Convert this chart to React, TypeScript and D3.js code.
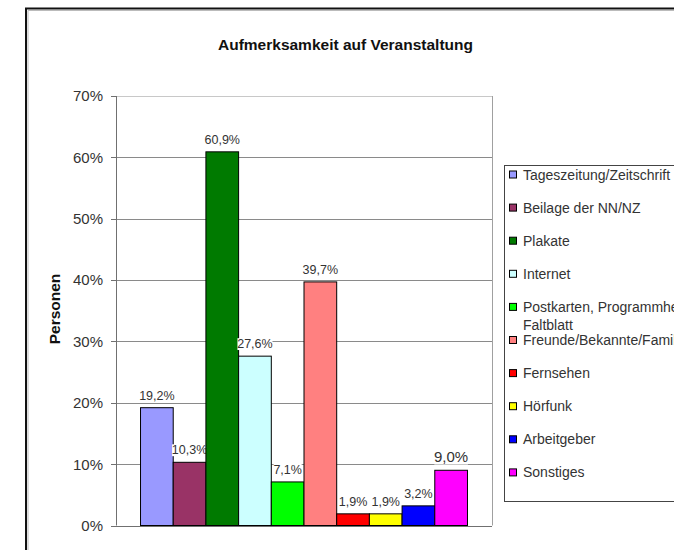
import React from "react";
import * as d3 from "d3";

const title = "Aufmerksamkeit auf Veranstaltung";
const yAxisTitle = "Personen";
const categories = [
  "Tageszeitung/Zeitschrift",
  "Beilage der NN/NZ",
  "Plakate",
  "Internet",
  "Postkarten, Programmheft, Faltblatt",
  "Freunde/Bekannte/Familie",
  "Fernsehen",
  "Hörfunk",
  "Arbeitgeber",
  "Sonstiges",
];
const legendLines = [
  ["Tageszeitung/Zeitschrift"],
  ["Beilage der NN/NZ"],
  ["Plakate"],
  ["Internet"],
  ["Postkarten, Programmheft,", "Faltblatt"],
  ["Freunde/Bekannte/Familie"],
  ["Fernsehen"],
  ["Hörfunk"],
  ["Arbeitgeber"],
  ["Sonstiges"],
];
const values = [19.2, 10.3, 60.9, 27.6, 7.1, 39.7, 1.9, 1.9, 3.2, 9.0];
const colors = [
  "#9999FF",
  "#993366",
  "#007A00",
  "#CCFFFF",
  "#00FF00",
  "#FF8080",
  "#FF0000",
  "#FFFF00",
  "#0000FF",
  "#FF00FF",
];
const yTicks = [0, 10, 20, 30, 40, 50, 60, 70];
const largeLabelIndex = 9;

const W = 674;
const H = 550;
const FONT = "'Liberation Sans', Arial, sans-serif";

export default function App() {
  const left = 116;
  const right = 492;
  const top = 96;
  const bottom = 525.5;

  const y = d3.scaleLinear().domain([0, 70]).range([bottom, top]);
  const x = d3
    .scaleBand<string>()
    .domain(categories)
    .range([left, right])
    .paddingInner(0)
    .paddingOuter(0.75);

  const fmt = (v: number) => d3.format(".1f")(v).replace(".", ",") + "%";

  const legendX = 504.5;
  const legendTop = 165.5;
  const legendBottom = 501.5;
  const legendY = d3
    .scalePoint<number>()
    .domain(d3.range(categories.length))
    .range([174.5, 472.4]);

  return (
    <svg
      width={W}
      height={H}
      style={{ position: "absolute", left: 0, top: 0, background: "#fff" }}
      fontFamily={FONT}
    >
      <rect x={0} y={0} width={W} height={H} fill="#fff" />
      {/* outer frame */}
      <path d={`M${W + 5},8.5 H26 V${H + 5}`} fill="none" stroke="#111" strokeWidth={2} />
      <path d={`M${W + 5},10.5 H28 V${H + 5}`} fill="none" stroke="#bbb" strokeWidth={1} />

      {/* title */}
      <text x={345.5} y={50} textAnchor="middle" fontSize={15.5} fontWeight="bold" fill="#111">
        {title}
      </text>

      {/* gridlines */}
      {yTicks.map((t) => (
        <line
          key={"g" + t}
          x1={left}
          x2={right}
          y1={Math.round(y(t)) + 0.5}
          y2={Math.round(y(t)) + 0.5}
          stroke={t === 70 ? "#c8c8c8" : "#8a8a8a"}
          strokeWidth={1}
        />
      ))}
      {/* plot right border */}
      <line x1={right + 0.5} x2={right + 0.5} y1={y(70)} y2={y(0)} stroke="#a0a0a0" />

      {/* y axis */}
      <line x1={left + 0.5} x2={left + 0.5} y1={y(70)} y2={y(0)} stroke="#707070" />
      {yTicks.map((t) => (
        <g key={"t" + t}>
          <line
            x1={left - 5}
            x2={left}
            y1={Math.round(y(t)) + 0.5}
            y2={Math.round(y(t)) + 0.5}
            stroke="#707070"
          />
          <text x={103} y={y(t)} dy="0.36em" textAnchor="end" fontSize={15} fill="#333">
            {t + "%"}
          </text>
        </g>
      ))}
      <text
        transform={`translate(60,309) rotate(-90)`}
        textAnchor="middle"
        fontSize={15.5}
        fontWeight="bold"
        fill="#111"
      >
        {yAxisTitle}
      </text>

      {/* bars + labels */}
      {categories.map((c, i) => {
        const bx = x(c)!;
        const bw = x.bandwidth();
        const by = y(values[i]);
        const fs = i === largeLabelIndex ? 15 : 12.5;
        const label = fmt(values[i]);
        const tw = label.length * fs * 0.56;
        const ty = by - 8;
        return (
          <g key={c}>
            <rect
              x={bx}
              y={by}
              width={bw}
              height={y(0) - by}
              fill={colors[i]}
              stroke="#000"
              strokeWidth={1}
            />
            <rect x={bx + bw / 2 - tw / 2} y={ty - fs * 0.8} width={tw} height={fs * 0.95} fill="#fff" />
            <text x={bx + bw / 2} y={ty} textAnchor="middle" fontSize={fs} fill="#333">
              {label}
            </text>
          </g>
        );
      })}
      <line x1={left} x2={right} y1={Math.round(y(0)) + 0.5} y2={Math.round(y(0)) + 0.5} stroke="#707070" />

      {/* legend */}
      <rect
        x={legendX}
        y={legendTop}
        width={300}
        height={legendBottom - legendTop}
        fill="#fff"
        stroke="#444"
        strokeWidth={1}
      />
      {categories.map((c, i) => {
        const cy = legendY(i)!;
        return (
          <g key={"l" + c}>
            <rect x={509.5} y={cy - 3.5} width={7} height={7} fill={colors[i]} stroke="#000" strokeWidth={1} />
            {legendLines[i].map((ln, j) => (
              <text key={j} x={523} y={cy + j * 18} dy="0.36em" fontSize={14} fill="#333">
                {ln}
              </text>
            ))}
          </g>
        );
      })}
    </svg>
  );
}
